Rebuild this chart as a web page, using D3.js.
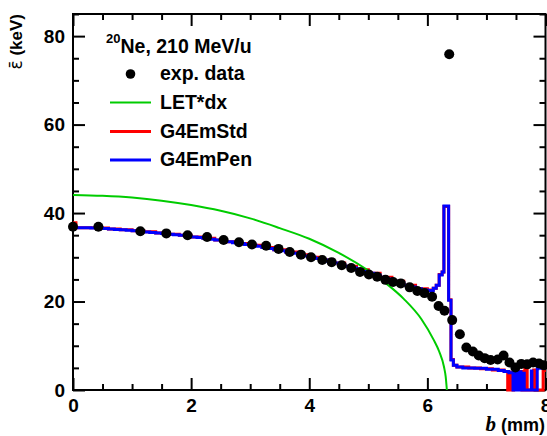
<!DOCTYPE html>
<html>
<head>
<meta charset="utf-8">
<script src="https://cdn.jsdelivr.net/npm/d3@7"></script>
<style>
  body { margin: 0; background: #fff; }
  svg text { font-family: "Liberation Sans", Arial, sans-serif; font-weight: bold; }
</style>
</head>
<body>
<script>
// experimental points: b (mm), mean energy (keV)
var expX = [0.0, 0.43, 1.14, 1.58, 1.94, 2.27, 2.55, 2.81, 3.03, 3.27, 3.48, 3.67, 3.86, 4.03,
            4.22, 4.38, 4.55, 4.71, 4.86, 5.01, 5.15, 5.29, 5.42, 5.55, 5.70, 5.83, 5.95, 6.08,
            6.19, 6.29, 6.37, 6.42, 6.55, 6.66, 6.77, 6.87, 6.97, 7.07, 7.19, 7.29, 7.39, 7.49,
            7.59, 7.69, 7.79, 7.89, 7.97];
var expY = [36.9, 36.9, 35.9, 35.4, 35.0, 34.6, 33.9, 33.4, 32.9, 32.6, 31.9, 31.2, 30.6, 30.0,
            29.4, 28.9, 28.2, 27.6, 26.7, 26.1, 25.6, 24.9, 24.4, 24.1, 23.2, 22.4, 21.9, 21.1,
            19.0, 17.9, 75.9, 15.8, 12.6, 9.6, 8.7, 7.8, 7.2, 6.8, 6.9, 7.8, 6.2, 5.1,
            5.9, 5.8, 6.2, 6.0, 5.6];

// LET*dx curve
var letX = [0, 0.5, 1, 1.5, 2, 2.5, 3, 3.5, 4, 4.5, 5, 5.3, 5.6, 5.9, 6.1, 6.2, 6.28, 6.31, 6.33];
var letY = [44.1, 43.9, 43.5, 42.8, 41.8, 40.5, 38.8, 36.6, 34.2, 31.0, 27.0, 24.1, 20.6, 16.0, 11.5, 8.7, 5.3, 3.0, 0];

// G4EmPen histogram (bin low edge, content)
var penEdges = [0.0, 0.1, 0.2, 0.3, 0.4, 0.5, 0.6, 0.7, 0.8, 0.9, 1.0, 1.1, 1.2, 1.3, 1.4, 1.5,
                1.6, 1.7, 1.8, 1.9, 2.0, 2.1, 2.2, 2.3, 2.4, 2.5, 2.6, 2.7, 2.8, 2.9, 3.0, 3.1,
                3.2, 3.3, 3.4, 3.5, 3.6, 3.7, 3.8, 3.9, 4.0, 4.1, 4.2, 4.3, 4.4, 4.5, 4.6, 4.7,
                4.8, 4.9, 5.0, 5.1, 5.2, 5.3, 5.4, 5.5, 5.6, 5.7, 5.8, 5.9, 6.0, 6.1, 6.15, 6.2,
                6.25, 6.28, 6.36, 6.40, 6.44, 6.5, 6.6, 6.8, 7.0, 7.2, 7.3, 7.38, 7.45, 7.455,
                7.465, 7.475, 7.485, 7.495, 7.505, 7.515, 7.525, 7.535, 7.545, 7.555, 7.565, 7.575,
                7.585, 7.63, 7.64, 7.76, 7.77, 7.86, 7.87, 8.0];
var penVals  = [36.7, 36.7, 36.7, 36.6, 36.6, 36.5, 36.4, 36.3, 36.2, 36.1, 36.0, 35.9, 35.7, 35.6, 35.5, 35.4,
                35.2, 35.1, 35.0, 34.8, 34.6, 34.5, 34.3, 34.1, 33.9, 33.7, 33.5, 33.3, 33.1, 32.9, 32.7, 32.5,
                32.2, 32.0, 31.7, 31.5, 31.2, 30.9, 30.6, 30.3, 30.0, 29.7, 29.4, 29.1, 28.7, 28.4, 28.0, 27.6,
                27.2, 26.8, 26.4, 26.0, 25.5, 25.1, 24.6, 24.2, 23.7, 23.3, 22.9, 22.6, 22.5, 23.0, 23.7, 26.0,
                26.7, 41.6, 20.3, 6.8, 5.6, 5.2, 5.0, 4.9, 4.7, 4.4, 4.2, 3.9, 0, 4.1,
                0, 4.1, 0, 4.1, 0, 4.1, 0, 4.1, 0, 4.1, 0, 4.1,
                0, 3.8, 0, 4.3, 0, 4.8, 5.0, 5.0];

// G4EmStd histogram (bin low edge, content)
var stdEdges = [0.0, 0.05, 0.2, 0.4, 0.6, 0.8, 1.0, 1.2, 1.4, 1.6, 1.8, 2.0, 2.2, 2.4, 2.6, 2.8,
                3.0, 3.2, 3.4, 3.6, 3.8, 4.0, 4.2, 4.4, 4.6, 4.8, 5.0, 5.2, 5.4, 5.6, 5.8, 6.0,
                6.1, 6.15, 6.2, 6.25, 6.28, 6.36, 6.40, 6.44, 6.5, 6.7, 6.9, 7.1, 7.3, 7.36, 7.37,
                7.38, 7.40, 7.41, 7.43, 7.44, 7.46, 7.6, 7.65, 7.66, 7.68, 7.69, 7.80, 7.83, 7.96, 7.98, 8.0];
var stdVals  = [37.8, 36.7, 36.7, 36.6, 36.4, 36.2, 36.0, 35.8, 35.5, 35.2, 35.0, 34.6, 34.3, 33.9, 33.5, 33.1,
                32.7, 32.2, 31.7, 31.2, 30.6, 30.0, 29.4, 28.7, 28.0, 27.2, 26.4, 25.5, 24.6, 23.7, 22.9, 22.6,
                23.0, 23.7, 26.1, 26.7, 41.5, 20.4, 6.9, 5.6, 5.2, 5.0, 4.8, 4.5, 4.2, 0, 4.0,
                0, 4.0, 0, 4.0, 0, 4.2, 0, 5.0, 0, 5.0, 0, 4.5, 0, 4.4, 5.0, 5.0];

var xMajor = [0, 2, 4, 6, 8];
var yMajor = [0, 20, 40, 60, 80];

var W = 547, H = 436;
var plotL = 73, plotR = 545.5, plotT = 14, plotB = 390;

var svg = d3.select("body").append("svg")
    .attr("width", W)
    .attr("height", H);

var x = d3.scaleLinear().domain([0, 8]).range([plotL, plotR]);
var y = d3.scaleLinear().domain([0, 85]).range([plotB, plotT]);

var xMinor = d3.range(0, 8.01, 0.5).filter(function(v) { return v % 2 != 0; });
var yMinor = d3.range(0, 85.1, 5).filter(function(v) { return v % 20 != 0; });

function tidy(g) {
  g.select(".domain").remove();
  g.selectAll("line").attr("stroke", "#000").attr("stroke-width", 2);
  g.selectAll("text").attr("fill", "#000").style("font-size", "19px");
}

// bottom axis
svg.append("g").attr("transform", "translate(0," + plotB + ")")
    .call(d3.axisBottom(x).tickValues(xMajor).tickSize(-12).tickPadding(9).tickFormat(d3.format("d")))
    .call(tidy);
svg.append("g").attr("transform", "translate(0," + plotB + ")")
    .call(d3.axisBottom(x).tickValues(xMinor).tickSize(-6).tickFormat(""))
    .call(tidy);
// top axis
svg.append("g").attr("transform", "translate(0," + plotT + ")")
    .call(d3.axisTop(x).tickValues(xMajor).tickSize(-12).tickFormat(""))
    .call(tidy);
svg.append("g").attr("transform", "translate(0," + plotT + ")")
    .call(d3.axisTop(x).tickValues(xMinor).tickSize(-6).tickFormat(""))
    .call(tidy);
// left axis
svg.append("g").attr("transform", "translate(" + plotL + ",0)")
    .call(d3.axisLeft(y).tickValues(yMajor).tickSize(-12).tickPadding(8).tickFormat(d3.format("d")))
    .call(tidy);
svg.append("g").attr("transform", "translate(" + plotL + ",0)")
    .call(d3.axisLeft(y).tickValues(yMinor).tickSize(-6).tickFormat(""))
    .call(tidy);
// right axis
svg.append("g").attr("transform", "translate(" + plotR + ",0)")
    .call(d3.axisRight(y).tickValues(yMajor).tickSize(-12).tickFormat(""))
    .call(tidy);
svg.append("g").attr("transform", "translate(" + plotR + ",0)")
    .call(d3.axisRight(y).tickValues(yMinor).tickSize(-6).tickFormat(""))
    .call(tidy);

// frame
svg.append("rect")
    .attr("x", plotL).attr("y", plotT)
    .attr("width", plotR - plotL).attr("height", plotB - plotT)
    .attr("fill", "none").attr("stroke", "#000").attr("stroke-width", 2);

// histograms
var step = d3.line()
    .x(function(d) { return x(d[0]); })
    .y(function(d) { return y(d[1]); })
    .curve(d3.curveStepAfter);

var stdPts = d3.zip(stdEdges, stdVals);
var penPts = d3.zip(penEdges, penVals);

svg.append("path").datum(stdPts)
    .attr("d", step).attr("fill", "none")
    .attr("stroke", "#ff0000").attr("stroke-width", 3);
svg.append("path").datum(penPts)
    .attr("d", step).attr("fill", "none")
    .attr("stroke", "#0000ff").attr("stroke-width", 3);

// LET*dx
var smooth = d3.line()
    .x(function(d) { return x(d[0]); })
    .y(function(d) { return y(d[1]); })
    .curve(d3.curveMonotoneX);
svg.append("path").datum(d3.zip(letX, letY))
    .attr("d", smooth).attr("fill", "none")
    .attr("stroke", "#00cc00").attr("stroke-width", 2);

// data points
svg.selectAll(".dot")
    .data(d3.zip(expX, expY))
    .enter().append("circle")
    .attr("class", "dot")
    .attr("cx", function(d) { return x(d[0]); })
    .attr("cy", function(d) { return y(d[1]); })
    .attr("r", 5)
    .attr("fill", "#000");

// axis titles
svg.append("text")
    .attr("transform", "translate(22," + plotT + ") rotate(-90)")
    .attr("text-anchor", "end")
    .style("font-size", "17px")
    .html('<tspan style="font-weight:normal;font-family:\'DejaVu Sans\'">\u03b5\u0304</tspan> (keV)');

var xt = svg.append("text")
    .attr("x", 545).attr("y", 431)
    .attr("text-anchor", "end")
    .style("font-size", "18px");
xt.append("tspan")
    .style("font-family", "'Liberation Serif', 'Times New Roman', serif")
    .style("font-style", "italic")
    .style("font-size", "21px")
    .text("b");
xt.append("tspan").text(" (mm)");

// legend
var title = svg.append("text").attr("x", 106).attr("y", 53).style("font-size", "19.5px");
title.append("tspan").attr("dy", -10).style("font-size", "13px").text("20");
title.append("tspan").attr("dy", 10).text("Ne, 210 MeV/u");

var legendItems = [
  {label: "exp. data", kind: "dot", color: "#000", yy: 80},
  {label: "LET*dx", kind: "line", color: "#00cc00", yy: 108.5},
  {label: "G4EmStd", kind: "line", color: "#ff0000", yy: 137.5},
  {label: "G4EmPen", kind: "line", color: "#0000ff", yy: 166}
];

var legend = svg.selectAll(".legend")
    .data(legendItems)
    .enter().append("g")
    .attr("class", "legend");

legend.each(function(d) {
  var g = d3.select(this);
  if (d.kind == "dot") {
    g.append("circle").attr("cx", 130.5).attr("cy", d.yy - 6).attr("r", 4.8).attr("fill", d.color);
  } else {
    g.append("line").attr("x1", 110).attr("x2", 151)
      .attr("y1", d.yy - 6).attr("y2", d.yy - 6)
      .attr("stroke", d.color).attr("stroke-width", d.color == "#00cc00" ? 2 : 3);
  }
  g.append("text").attr("x", 160).attr("y", d.yy)
    .style("font-size", "19.5px")
    .text(d.label);
});
</script>
</body>
</html>
